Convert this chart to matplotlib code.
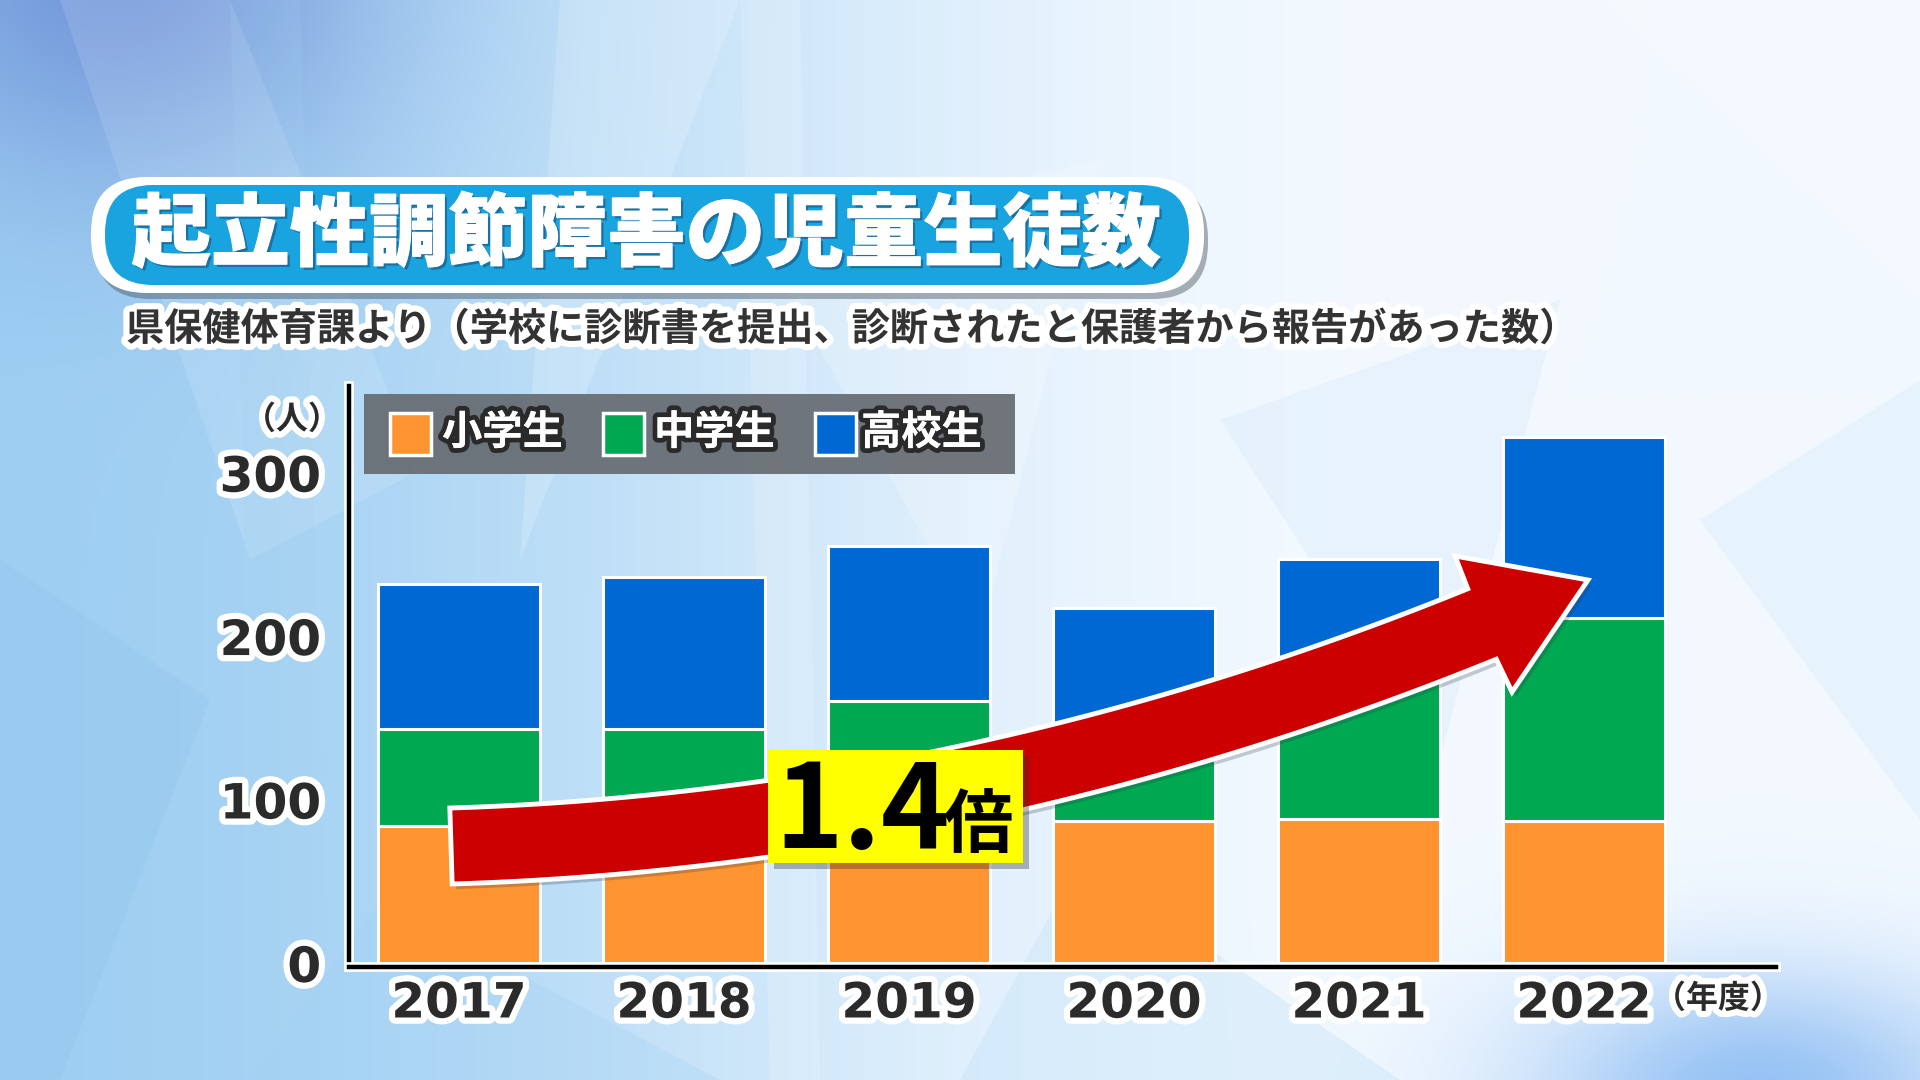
import numpy as np
import matplotlib
matplotlib.use('Agg')
import matplotlib.pyplot as plt
import matplotlib.patheffects as pe
from matplotlib.patches import FancyBboxPatch, Rectangle, Polygon

plt.rcParams['font.family'] = ['Noto Sans CJK JP', 'DejaVu Sans']

# data
years = ['2017', '2018', '2019', '2020', '2021', '2022']
elementary = [84, 82, 84, 87, 88, 87]     # 小学生
junior_high = [59, 61, 76, 50, 91, 124]   # 中学生
high_school = [89, 93, 95, 80, 68, 111]   # 高校生
series_names = ['小学生', '中学生', '高校生']
series_colors = ['#FE9430', '#00A851', '#0068D2']

title = '起立性調節障害の児童生徒数'
subtitle = '県保健体育課より（学校に診断書を提出、診断されたと保護者から報告があった数）'
ratio_text = '1.4'

W, H = 1920, 1080
fig = plt.figure(figsize=(19.2, 10.8), dpi=100)

# ---- background -------------------------------------------------------
bg = fig.add_axes([0, 0, 1, 1], zorder=0)
yy, xx = np.mgrid[0:H, 0:W]
u = xx / W
s = np.clip(u / 0.72, 0, 1)
s = s * s * (3 - 2 * s)
left = np.array([0.62, 0.81, 0.95])
right = np.array([0.95, 0.975, 1.0])
img = left[None, None, :] * (1 - s[..., None]) + right[None, None, :] * s[..., None]
blob = np.exp(-(((xx - 120) / 260.0) ** 2 + ((yy + 40) / 220.0) ** 2))
img = img * (1 - 0.55 * blob[..., None]) + np.array([0.32, 0.42, 0.78]) * 0.55 * blob[..., None]
glow = np.exp(-(((xx - 1760) / 230.0) ** 2 + ((yy - 1090) / 120.0) ** 2))
img = img * (1 - 0.6 * glow[..., None]) + np.array([0.35, 0.62, 0.93]) * 0.6 * glow[..., None]
bg.imshow(img, extent=(0, W, H, 0), aspect='auto')
bg.set_xlim(0, W)
bg.set_ylim(H, 0)
bg.axis('off')

facets = [
    ([(60, 0), (230, 0), (420, 470), (250, 560)], 'white', 0.12),
    ([(560, 0), (740, 0), (520, 560)], 'white', 0.18),
    ([(0, 560), (210, 700), (60, 1080), (0, 1080)], '#8CC4EE', 0.25),
    ([(760, 240), (1100, 160), (980, 640)], 'white', 0.20),
    ([(1220, 420), (1560, 300), (1440, 760)], '#CFE6F8', 0.30),
    ([(380, 900), (720, 1080), (250, 1080)], '#9FD0F4', 0.25),
    ([(1080, 860), (1400, 1080), (960, 1080)], '#BFE0F7', 0.35),
    ([(1600, 0), (1920, 0), (1920, 300)], 'white', 0.25),
    ([(1700, 520), (1920, 380), (1920, 820)], '#D4EAF9', 0.35),
    ([(230, 0), (300, 0), (330, 1080), (260, 1080)], '#A8D2F2', 0.18),
    ([(740, 0), (800, 0), (820, 1080), (770, 1080)], 'white', 0.15),
]
for pts, c, a in facets:
    bg.add_patch(Polygon(pts, closed=True, fc=c, ec='none', alpha=a))

# ---- chart -------------------------------------------------------------
x0, x1, ytop, ybot = 349, 1776, 386, 967
ax = fig.add_axes([x0 / W, (H - ybot) / H, (x1 - x0) / W, (ybot - ytop) / H], zorder=2)
ax.set_facecolor('none')
x = np.arange(len(years))
bottom = np.zeros(len(years))
for vals, c in zip([elementary, junior_high, high_school], series_colors):
    ax.bar(x, vals, width=0.72, bottom=bottom, color=c, edgecolor='white', linewidth=2.2, zorder=2)
    bottom += np.array(vals)

ax.set_xlim(-0.489, 5.853)
ax.set_ylim(-2.5, 353)
for side in ['top', 'right']:
    ax.spines[side].set_visible(False)
for side in ['left', 'bottom']:
    ax.spines[side].set_linewidth(3.2)
    ax.spines[side].set_color('black')
    ax.spines[side].set_path_effects([pe.withStroke(linewidth=7, foreground='white')])
    ax.spines[side].set_zorder(3)

outline = [pe.withStroke(linewidth=9, foreground='white')]
ax.set_yticks([0, 100, 200, 300])
ax.set_yticklabels(['0', '100', '200', '300'])
ax.set_xticks(x)
ax.set_xticklabels(years)
ax.tick_params(axis='y', length=0, pad=20)
ax.tick_params(axis='x', length=0, pad=9)
for lbl in ax.get_yticklabels() + ax.get_xticklabels():
    lbl.set_fontfamily('DejaVu Sans')
    lbl.set_fontweight('bold')
    lbl.set_fontsize(35)
    lbl.set_color('#2B2B2B')
    lbl.set_path_effects(outline)

# ---- overlay (title, legend, arrow) -------------------------------------
ov = fig.add_axes([0, 0, 1, 1], zorder=3)
ov.set_xlim(0, W)
ov.set_ylim(H, 0)
ov.axis('off')

ov.text(292, 420, '（人）', ha='center', va='center', fontsize=23, fontweight='bold',
        color='#2B2B2B', path_effects=outline)
ov.text(1718, 999, '（年度）', ha='center', va='center', fontsize=23, fontweight='bold',
        color='#2B2B2B', path_effects=outline)

# title
ov.add_patch(FancyBboxPatch((95, 183), 1113, 116, boxstyle='round,pad=0,rounding_size=56',
                            fc='#4A5560', ec='none', alpha=0.45))
ov.add_patch(FancyBboxPatch((91, 177), 1113, 116, boxstyle='round,pad=0,rounding_size=56',
                            fc='white', ec='none'))
ov.add_patch(FancyBboxPatch((105, 185), 1084, 100, boxstyle='round,pad=0,rounding_size=48',
                            fc='#19A4E0', ec='none'))
ov.text(646, 236, title, ha='center', va='center', fontsize=57, fontweight='heavy',
        color='white',
        path_effects=[pe.withSimplePatchShadow(offset=(2, -2), shadow_rgbFace='#1B4F78', alpha=0.6),
                      pe.withStroke(linewidth=0.8, foreground='white')])

ov.text(126, 329, subtitle, ha='left', va='center', fontsize=27.5, fontweight='bold',
        color='#333333', path_effects=outline)

# legend
ov.add_patch(Rectangle((364, 394), 651, 80, fc='#676C72', ec='none', alpha=0.93))
sw_x = [390, 603, 815]
tx_x = [442, 654, 861]
for name, c, sx, tx in zip(series_names, series_colors, sw_x, tx_x):
    ov.add_patch(Rectangle((sx, 413), 41, 42, fc=c, ec='white', lw=2.5))
    ov.text(tx, 433, name, ha='left', va='center', fontsize=29, fontweight='bold', color='white',
            path_effects=[pe.withStroke(linewidth=7, foreground='#2A2A2A'), pe.Normal()])

# arrow
t = np.linspace(0, 1, 120)[:, None]
P0 = np.array([451, 846])
P1 = np.array([975, 830])
P2 = np.array([1482, 624])
c = (1 - t) ** 2 * P0 + 2 * t * (1 - t) * P1 + t ** 2 * P2
d = 2 * (1 - t) * (P1 - P0) + 2 * t * (P2 - P1)
d = d / np.linalg.norm(d, axis=1, keepdims=True)
n = np.column_stack([d[:, 1], -d[:, 0]])
half = 38
upper = c + half * n
lower = c - half * n
head = np.array([[1455, 556], [1588, 580], [1512, 692]])
pts = np.vstack([upper, head, lower[::-1]])
ov.add_patch(Polygon(pts, closed=True, fc='#2A3A50', ec='none', alpha=0.25,
                     transform=ov.transData + matplotlib.transforms.Affine2D().translate(4, -5)))
ov.add_patch(Polygon(pts, closed=True, fc='#CC0000', ec='white', lw=3.5, joinstyle='miter'))

# 1.4倍 box
ov.add_patch(Rectangle((774, 756), 255, 113, fc='#333333', ec='none', alpha=0.35))
ov.add_patch(Rectangle((768, 750), 255, 113, fc='#FFFF00', ec='none'))
ov.text(774, 848, ratio_text, ha='left', va='baseline', fontsize=84, fontweight='bold', color='black')
ov.text(943, 847, '倍', ha='left', va='baseline', fontsize=50, fontweight='bold', color='black')

fig.savefig('out.png', dpi=100)
